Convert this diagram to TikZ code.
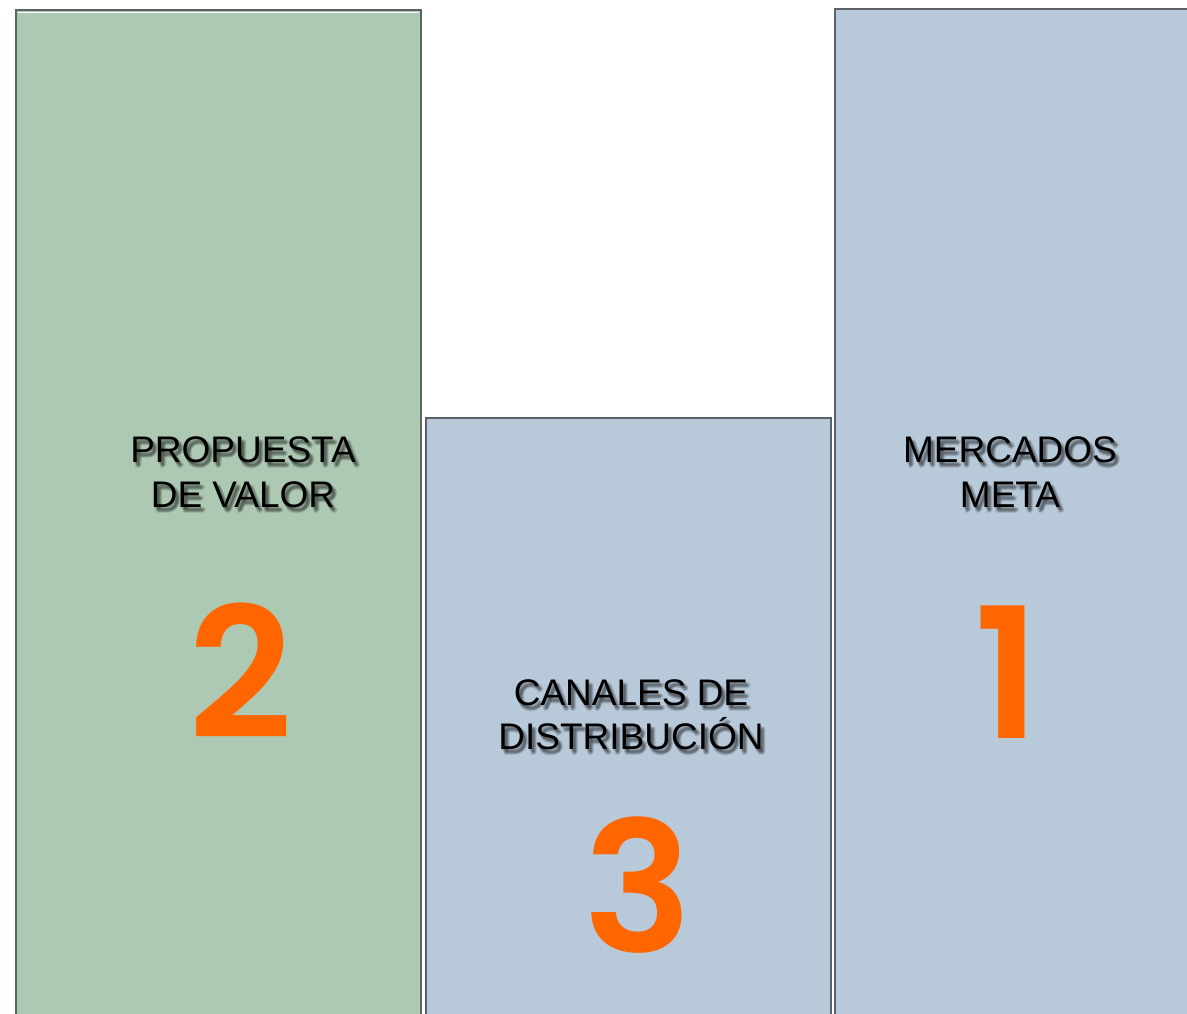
\documentclass[tikz,border=0pt]{standalone}
\usepackage{fontspec}
\setmainfont{Liberation Sans}
\newfontfamily\numfont{Poppins}[UprightFont=* SemiBold, BoldFont=* SemiBold]
\definecolor{grn}{HTML}{AEC9B3}
\definecolor{blu}{HTML}{B8C9D9}
\definecolor{edgec}{HTML}{5E6266}
\definecolor{org}{HTML}{FF6600}
\tikzset{
  panel/.style={draw=edgec, line width=2pt},
  lbl/.style={anchor=base, font=\fontsize{37}{45}\selectfont, text=black, inner sep=0pt},
  shd/.style={lbl, text=black, opacity=0.10},
  num/.style={anchor=base, font=\numfont\fontsize{182}{182}\selectfont, text=org, inner sep=0pt}
}
\newcommand{\shlabel}[3]{%
  \foreach \dx/\dy in {1/2,2/3,3/4,4/5,2/5,4/3,3/6,5/4}{
    \node[shd] at ([shift={(\dx,\dy)}]#2) {#3};
  }
  \node[lbl] (#1) at (#2) {#3};
}
\begin{document}
\begin{tikzpicture}[x=1pt,y=-1pt]
\useasboundingbox (0,0) rectangle (1187,1013);
\clip (0,0) rectangle (1187,1013);
% panels
\fill[grn] (16,10) rectangle (421,1030);
\draw[panel] (16,1030) -- (16,10) -- (421,10) -- (421,1030);
\draw[white, line width=1.2pt] (18,12.5) -- (419,12.5);
\fill[blu] (426,418) rectangle (831,1030);
\draw[panel] (426,1030) -- (426,418) -- (831,418) -- (831,1030);
\fill[blu] (835,9) rectangle (1190,1030);
\draw[panel] (835,1030) -- (835,9) -- (1190,9);
% labels
\coordinate (p1) at (243,462);
\coordinate (p2) at (243,507);
\coordinate (m1) at (1010,462);
\coordinate (m2) at (1010,507);
\coordinate (c1) at (631,705);
\coordinate (c2) at (631,749);
\shlabel{prop1}{p1}{PROPUESTA}
\shlabel{prop2}{p2}{DE VALOR}
\shlabel{merc1}{m1}{MERCADOS}
\shlabel{merc2}{m2}{META}
\shlabel{can1}{c1}{CANALES DE}
\shlabel{can2}{c2}{DISTRIBUCIÓN}
% numbers
\node[num] (n2) at (241,738) {2};
\node[num] (n3) at (638,952) {3};
\node[num] (n1) at (1007,738) {1};
\end{tikzpicture}
\end{document}
